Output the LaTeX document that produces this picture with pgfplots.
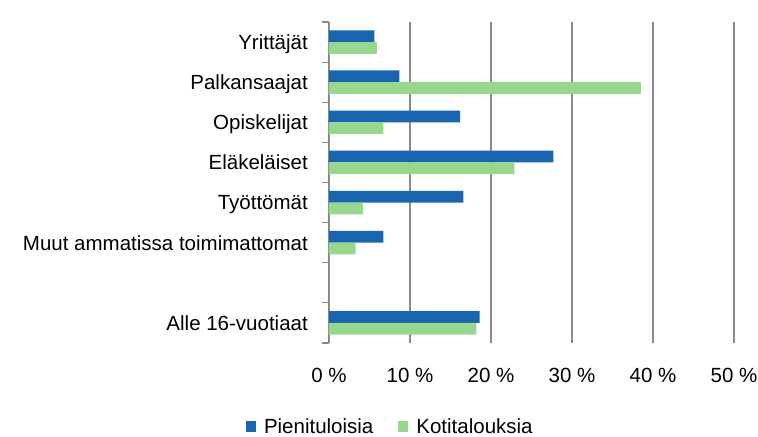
\documentclass[border=0pt]{standalone}
\usepackage{fontspec}
\setmainfont{Liberation Sans}
\usepackage{pgfplots}
\usepackage{pgfplotstable}
\pgfplotsset{compat=1.18}
\definecolor{pblue}{RGB}{25,101,176}
\definecolor{kgreen}{RGB}{152,216,142}
\definecolor{gridgray}{RGB}{138,138,138}
\newcommand{\fs}{\fontsize{20.5bp}{24bp}\selectfont}

% y: category position (0 = top), pien = Pienituloisia, koti = Kotitalouksia
\pgfplotstableread{
y pien koti
0 5.6 5.9
1 8.7 38.5
2 16.2 6.7
3 27.7 22.9
4 16.6 4.2
5 6.7 3.3
7 18.6 18.2
}\data

\begin{document}
\begin{tikzpicture}
\begin{axis}[
  name=ax,
  scale only axis, width=405bp, height=321bp,
  xmin=0, xmax=50, ymin=-0.5, ymax=7.5, y dir=reverse,
  axis lines=left, axis line style={-},
  x axis line style={draw=none},
  y axis line style={draw=gridgray, line width=1.2bp},
  xtick={0,10,...,50},
  xticklabels={0 \%,10 \%,20 \%,30 \%,40 \%,50 \%},
  ytick={0,...,7},
  yticklabels={Yrittäjät,Palkansaajat,Opiskelijat,Eläkeläiset,Työttömät,Muut ammatissa toimimattomat,{},Alle 16-vuotiaat},
  minor ytick={-0.5,0.5,...,7.5},
  major tick length=0pt, minor tick length=7bp, tick align=outside,
  tick style={draw=gridgray, line width=1.2bp},
  xmajorgrids, major grid style={draw=gridgray, line width=1.2bp},
  ticklabel style={font=\fs, inner sep=0pt},
  xticklabel style={anchor=north, yshift=-25bp},
  yticklabel style={anchor=base east, xshift=-21bp, yshift=-7.4bp},
  bar width=11.8bp,
  legend columns=2,
  legend style={at={(0.149,-0.262)}, anchor=center, draw=none, font=\fs,
    nodes={inner sep=0pt},
    /tikz/every odd column/.append style={column sep=8bp},
    /tikz/every even column/.append style={column sep=25bp}},
  legend image code/.code={\fill[#1] (0bp,-5bp) rectangle (10bp,6bp);},
]
\addplot[xbar, fill=pblue, draw=none, bar shift=5.9bp] table[x=pien, y=y] {\data};
\addplot[xbar, fill=kgreen, draw=none, bar shift=-5.9bp] table[x=koti, y=y] {\data};
\legend{Pienituloisia, Kotitalouksia}
\end{axis}
\pgfresetboundingbox
\path ([shift={(-329bp,-94bp)}]ax.south west) rectangle ([shift={(429bp,343bp)}]ax.south west);
\end{tikzpicture}
\end{document}
